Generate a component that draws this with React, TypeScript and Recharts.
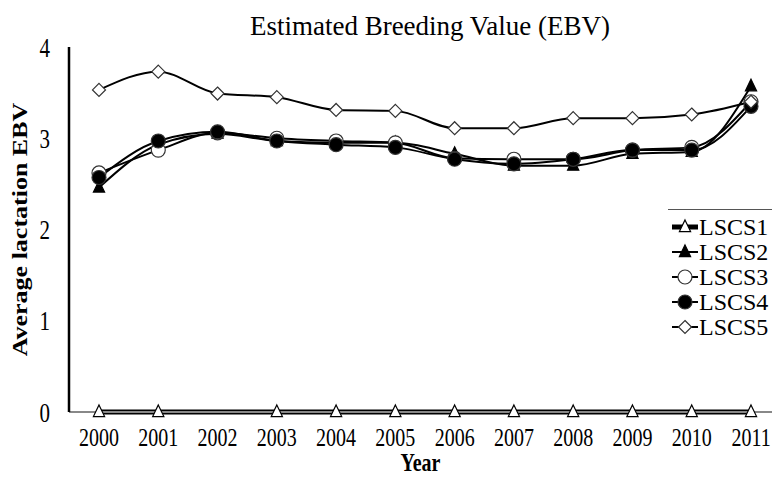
import { LineChart, Line, XAxis, YAxis } from "recharts";

const years = ["2000", "2001", "2002", "2003", "2004", "2005", "2006", "2007", "2008", "2009", "2010", "2011"];
const lscs1 = [0, 0, 0, 0, 0, 0, 0, 0, 0, 0, 0, 0];
const lscs2 = [2.46, 2.93, 3.05, 2.97, 2.95, 2.95, 2.83, 2.7, 2.7, 2.83, 2.85, 3.57];
const lscs3 = [2.62, 2.87, 3.06, 3.0, 2.97, 2.95, 2.78, 2.77, 2.77, 2.87, 2.9, 3.4];
const lscs4 = [2.57, 2.97, 3.07, 2.97, 2.93, 2.9, 2.77, 2.72, 2.77, 2.87, 2.87, 3.35];
const lscs5 = [3.53, 3.73, 3.49, 3.45, 3.31, 3.3, 3.11, 3.11, 3.22, 3.22, 3.26, 3.4];
const yTicks = [0, 1, 2, 3, 4];

const data = years.map((year, i) => ({
  year,
  LSCS1: lscs1[i],
  LSCS2: lscs2[i],
  LSCS3: lscs3[i],
  LSCS4: lscs4[i],
  LSCS5: lscs5[i],
}));

const FONT = "'Liberation Serif', Tinos, 'Times New Roman', 'DejaVu Serif', serif";
const STRETCH = 1.3;

type Shape = "triangle" | "circle" | "diamond";

const Marker = ({ cx, cy, shape, filled }: { cx: number; cy: number; shape: Shape; filled: boolean }) => {
  const fill = filled ? "#000" : "#fff";
  if (shape === "triangle") {
    const s = 7;
    return (
      <polygon
        points={`${cx},${cy - s} ${cx + s * 0.8},${cy + s * 0.65} ${cx - s * 0.8},${cy + s * 0.65}`}
        fill={fill}
        stroke="#000"
        strokeWidth={1.2}
      />
    );
  }
  if (shape === "diamond") {
    const s = 6.5;
    return (
      <polygon
        points={`${cx},${cy - s} ${cx + s},${cy} ${cx},${cy + s} ${cx - s},${cy}`}
        fill={fill}
        stroke="#333"
        strokeWidth={1.2}
      />
    );
  }
  return <circle cx={cx} cy={cy} r={7} fill={fill} stroke="#333" strokeWidth={1.2} />;
};

const series: { key: string; shape: Shape; filled: boolean; width: number }[] = [
  { key: "LSCS1", shape: "triangle", filled: false, width: 5 },
  { key: "LSCS2", shape: "triangle", filled: true, width: 2 },
  { key: "LSCS3", shape: "circle", filled: false, width: 2 },
  { key: "LSCS4", shape: "circle", filled: true, width: 2 },
  { key: "LSCS5", shape: "diamond", filled: false, width: 2 },
];

// title + legend drawn in an overlay svg
const Overlay = () => (
  <svg width={772} height={485} style={{ position: "absolute", left: 0, top: 0, pointerEvents: "none" }}>
    <text x={430} y={35} textAnchor="middle" fontFamily={FONT} fontSize={27} fill="#000">
      Estimated Breeding Value (EBV)
    </text>
    <rect x={668} y={209} width={110} height={132} fill="#fff" />
    <line x1={668} y1={209.5} x2={772} y2={209.5} stroke="#555" strokeWidth={1} />
    {series.map((s, i) => {
      const cy = 227 + i * 25;
      return (
        <g key={s.key}>
          <line x1={672} y1={cy} x2={698} y2={cy} stroke="#000" strokeWidth={s.width} />
          <Marker cx={685} cy={cy} shape={s.shape} filled={s.filled} />
          <text x={699} y={cy} dominantBaseline="central" fontFamily={FONT} fontSize={24} fill="#000">
            {s.key}
          </text>
        </g>
      );
    })}
  </svg>
);

const XTick = (props: any) => {
  const { x, y, payload } = props;
  return (
    <text
      transform={`translate(${x},${y + 19}) scale(1,${STRETCH})`}
      textAnchor="middle"
      dominantBaseline="central"
      fontFamily={FONT}
      fontSize={20}
      fill="#000"
    >
      {payload.value}
    </text>
  );
};

const YTick = (props: any) => {
  const { x, y, payload } = props;
  return (
    <text
      transform={`translate(${x - 13},${y}) scale(1,${STRETCH})`}
      textAnchor="end"
      dominantBaseline="central"
      fontFamily={FONT}
      fontSize={21}
      fill="#000"
    >
      {payload.value}
    </text>
  );
};

const YLabel = (props: any) => {
  const vb = props.viewBox;
  const cy = vb.y + vb.height / 2;
  return (
    <text
      transform={`translate(20,${cy}) rotate(-90) scale(${STRETCH},1)`}
      textAnchor="middle"
      dominantBaseline="central"
      fontFamily={FONT}
      fontSize={20}
      fontWeight="bold"
      fill="#000"
    >
      Average lactation EBV
    </text>
  );
};

const XLabel = (props: any) => {
  const vb = props.viewBox;
  const cx = vb.x + vb.width / 2;
  return (
    <text
      transform={`translate(${cx},${vb.y + 50}) scale(1,${STRETCH})`}
      textAnchor="middle"
      dominantBaseline="central"
      fontFamily={FONT}
      fontSize={20}
      fontWeight="bold"
      fill="#000"
    >
      Year
    </text>
  );
};

export default function App() {
  return (
    <div style={{ position: "absolute", left: 0, top: 0, width: 772, height: 485, background: "#fff", fontFamily: FONT }}>
      <LineChart width={772} height={485} data={data} margin={{ top: 47, right: 0, bottom: 13, left: 9 }}>
        <XAxis
          dataKey="year"
          padding={{ left: 30, right: 21 }}
          axisLine={{ stroke: "#888", strokeWidth: 2 }}
          tickLine={false}
          tick={<XTick />}
          tickMargin={0}
          height={60}
          interval={0}
          label={<XLabel />}
        />
        <YAxis
          domain={[0, 4]}
          ticks={yTicks}
          width={60}
          axisLine={{ stroke: "#000", strokeWidth: 2.5 }}
          tickLine={false}
          tick={<YTick />}
          tickMargin={0}
          label={<YLabel />}
        />
        {series.map((s) => (
          <Line
            key={s.key}
            dataKey={s.key}
            type="monotone"
            stroke="#000"
            strokeWidth={s.width}
            isAnimationActive={false}
            dot={(p: any) =>
              s.key === "LSCS1" && p.index === 2 ? (
                <g key={`${s.key}-${p.index}`} />
              ) : (
                <Marker key={`${s.key}-${p.index}`} cx={p.cx} cy={p.cy} shape={s.shape} filled={s.filled} />
              )
            }
            activeDot={false}
          />
        ))}
      </LineChart>
      <Overlay />
    </div>
  );
}
